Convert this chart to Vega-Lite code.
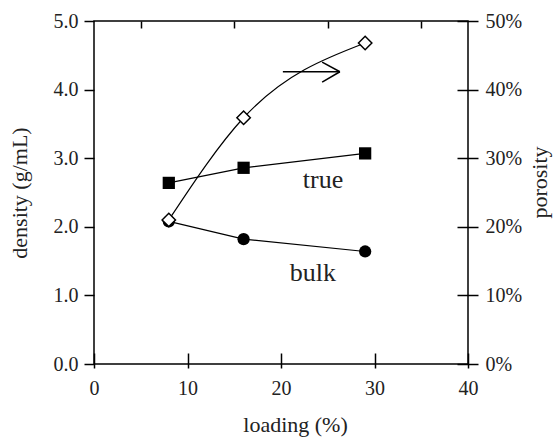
{
  "$schema": "https://vega.github.io/schema/vega-lite/v6.json",
  "width": 374,
  "height": 343,
  "autosize": {"type": "none"},
  "padding": {"left": 94, "top": 21, "right": 87, "bottom": 73},
  "background": "white",
  "config": {
    "view": {"stroke": "black", "strokeWidth": 1.5},
    "font": "Liberation Serif",
    "axis": {
      "labelFont": "Liberation Serif",
      "titleFont": "Liberation Serif",
      "labelFontSize": 20,
      "titleFontSize": 22,
      "titleFontWeight": "normal",
      "labelColor": "#222",
      "titleColor": "#222",
      "tickColor": "black",
      "tickWidth": 1.5,
      "domain": false,
      "grid": false
    }
  },
  "datasets": {
    "density": [
      {"loading": 8, "series": "true", "value": 2.64},
      {"loading": 16, "series": "true", "value": 2.86},
      {"loading": 29, "series": "true", "value": 3.07},
      {"loading": 8, "series": "bulk", "value": 2.08},
      {"loading": 16, "series": "bulk", "value": 1.82},
      {"loading": 29, "series": "bulk", "value": 1.64}
    ],
    "porosity": [
      {"loading": 8, "porosity": 21.0},
      {"loading": 16, "porosity": 35.9},
      {"loading": 29, "porosity": 46.8}
    ],
    "labels": [
      {"loading": 24.5, "value": 2.68, "text": "true"},
      {"loading": 23.4, "value": 1.33, "text": "bulk"}
    ],
    "arrow": [
      {"x": 20.2, "y": 4.26, "x2": 26.3, "y2": 4.26},
      {"x": 24.4, "y": 4.40, "x2": 26.3, "y2": 4.26},
      {"x": 24.4, "y": 4.11, "x2": 26.3, "y2": 4.26}
    ]
  },
  "layer": [
    {
      "layer": [
        {
          "data": {"name": "density"},
          "mark": {"type": "line", "color": "black", "strokeWidth": 1.2},
          "encoding": {
            "x": {"field": "loading", "type": "quantitative",
                  "scale": {"domain": [0, 40]},
                  "axis": {"values": [0, 10, 20, 30, 40], "offset": -11, "tickSize": 15, "labelPadding": 10,
                           "title": "loading (%)", "titlePadding": 16, "titleX": 201, "labelFlush": false}},
            "y": {"field": "value", "type": "quantitative",
                  "scale": {"domain": [0, 5]},
                  "axis": {"values": [0, 1, 2, 3, 4, 5], "format": ".1f", "tickSize": 10, "labelPadding": 6,
                           "title": "density (g/mL)", "titlePadding": 22}},
            "detail": {"field": "series"}
          }
        },
        {
          "data": {"name": "density"},
          "mark": {"type": "point", "filled": true, "color": "black", "opacity": 1, "size": 150},
          "encoding": {
            "x": {"field": "loading", "type": "quantitative"},
            "y": {"field": "value", "type": "quantitative"},
            "shape": {"field": "series", "type": "nominal",
                      "scale": {"domain": ["true", "bulk"], "range": ["square", "circle"]}, "legend": null}
          }
        },
        {
          "data": {"name": "labels"},
          "mark": {"type": "text", "font": "Liberation Serif", "fontSize": 26, "color": "#222"},
          "encoding": {
            "x": {"field": "loading", "type": "quantitative"},
            "y": {"field": "value", "type": "quantitative"},
            "text": {"field": "text"}
          }
        },
        {
          "data": {"name": "arrow"},
          "mark": {"type": "rule", "color": "black", "strokeWidth": 1.5},
          "encoding": {
            "x": {"field": "x", "type": "quantitative"},
            "y": {"field": "y", "type": "quantitative"},
            "x2": {"field": "x2"},
            "y2": {"field": "y2"}
          }
        }
      ]
    },
    {
      "data": {"name": "porosity"},
      "layer": [
        {
          "mark": {"type": "line", "color": "black", "strokeWidth": 1.2, "interpolate": "monotone"},
          "encoding": {
            "x": {"field": "loading", "type": "quantitative",
                  "axis": {"values": [5, 15, 25, 35], "offset": -7, "tickSize": 7, "labels": false, "title": null}},
            "y": {"field": "porosity", "type": "quantitative",
                  "scale": {"domain": [0, 50]},
                  "axis": {"orient": "right", "values": [0, 10, 20, 30, 40, 50], "labelExpr": "datum.value + '%'",
                           "offset": -11, "tickSize": 21, "labelPadding": 7,
                           "title": "porosity", "titleAngle": 270, "titleBaseline": "top", "titlePadding": 8, "titleY": 161}}
          }
        },
        {
          "mark": {"type": "point", "shape": "diamond", "filled": true, "fill": "white", "stroke": "black", "strokeWidth": 1.5, "opacity": 1, "size": 180},
          "encoding": {
            "x": {"field": "loading", "type": "quantitative"},
            "y": {"field": "porosity", "type": "quantitative"}
          }
        }
      ]
    }
  ],
  "resolve": {"scale": {"y": "independent"}, "axis": {"x": "independent"}}
}
